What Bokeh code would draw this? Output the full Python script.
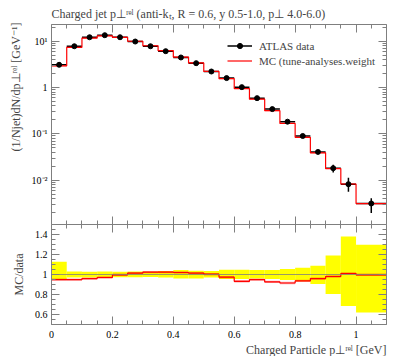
from bokeh.plotting import figure
from bokeh.models import (Range1d, FixedTicker, LinearAxis, LogAxis, Title,
                          Legend, LegendItem, Span, CustomJSTickFormatter)
from bokeh.layouts import column
from bokeh.embed import file_html
from bokeh.resources import INLINE

# ---- data ----
edges = [0.0, 0.05, 0.1, 0.15, 0.2, 0.25, 0.3, 0.35, 0.4, 0.45, 0.5,
         0.55, 0.6, 0.65, 0.7, 0.75, 0.8, 0.85, 0.9, 0.95, 1.0, 1.1]
data_y = [3.1, 7.8, 12.2, 13.5, 12.2, 9.86, 7.8, 6.1, 4.46, 3.36, 2.22,
          1.6, 1.02, 0.59, 0.342, 0.183, 0.0898, 0.0406, 0.0181, 0.00817, 0.00313]
band_up = [1.128, 1.030, 1.027, 1.030, 1.027, 1.030, 1.027, 1.034, 1.044, 1.037, 1.034,
           1.047, 1.047, 1.044, 1.044, 1.054, 1.068, 1.088, 1.19, 1.38, 1.298]
band_dn = [0.955, 0.970, 0.970, 0.970, 0.973, 0.973, 0.976, 0.970, 0.959, 0.959, 0.970,
           0.956, 0.956, 0.959, 0.956, 0.946, 0.932, 0.905, 0.804, 0.685, 0.621]
mc_ratio = [0.949, 0.949, 0.959, 0.970, 0.997, 1.014, 1.024, 1.024, 1.020, 1.014, 1.003,
            0.973, 0.932, 0.949, 0.926, 0.915, 0.936, 0.959, 0.980, 1.010, 0.997]
mc_rel_err = 0.012

x_major = [0.0, 0.2, 0.4, 0.6, 0.8, 1.0]
x_labels = {0.0: "0", 0.2: "0.2", 0.4: "0.4", 0.6: "0.6", 0.8: "0.8", 1.0: "1"}
y_major = [0.01, 0.1, 1.0, 10.0]
y_labels = {0.01: "10⁻²", 0.1: "10⁻¹", 1.0: "1", 10.0: "10¹"}
r_major = [0.6, 0.8, 1.0, 1.2, 1.4]
r_labels = {0.6: "0.6", 0.8: "0.8", 1.0: "1", 1.2: "1.2", 1.4: "1.4"}

lo = edges[:-1]
hi = edges[1:]
mid = [(a + b) / 2 for a, b in zip(lo, hi)]
mc_y = [d * r for d, r in zip(data_y, mc_ratio)]
err_top = [d * u for d, u in zip(data_y, band_up)]
err_bot = [d * w for d, w in zip(data_y, band_dn)]

x_minor = [round(i * 0.05, 2) for i in range(0, 23) if round(i * 0.05, 2) not in x_major]
y_minor = [k * 10.0 ** e for e in range(-3, 2) for k in range(2, 10)]
r_minor = [round(0.5 + i * 0.05, 2) for i in range(0, 21) if round(0.5 + i * 0.05, 2) not in r_major]

FONT = "Liberation Serif"
AX = "#7f7f7f"
LBL = "12px"


def style_axis(ax, labels=True, size="11px"):
    ax.axis_line_color = AX
    ax.major_tick_line_color = AX
    ax.minor_tick_line_color = AX
    ax.major_tick_in = 8
    ax.major_tick_out = 0
    ax.minor_tick_in = 4
    ax.minor_tick_out = 0
    ax.major_label_text_font = FONT
    ax.major_label_text_color = "black"
    ax.major_label_text_font_size = size
    if not labels:
        ax.formatter = CustomJSTickFormatter(code="return '';")
        ax.major_label_text_font_size = "1px"
        ax.major_label_standoff = 0


# ---- main panel ----
p = figure(frame_width=335, frame_height=200, x_range=Range1d(0, 1.1),
           y_range=Range1d(0.0011, 23), y_axis_type="log",
           output_backend="svg", toolbar_location=None,
           min_border_left=41, min_border_right=5, min_border_top=16, min_border_bottom=0)
p.grid.visible = False
p.outline_line_color = None
p.title.text = "Charged jet p⊥ʳᵉˡ (anti-kₜ, R = 0.6, y 0.5-1.0, p⊥ 4.0-6.0)"
p.title.text_font = FONT
p.title.text_font_size = LBL
p.title.text_font_style = "normal"
p.title.align = "left"
p.title.standoff = 8

xt = FixedTicker(ticks=x_major, minor_ticks=x_minor)
yt = FixedTicker(ticks=y_major, minor_ticks=y_minor)
p.xaxis[0].ticker = xt
style_axis(p.xaxis[0], labels=False)
p.yaxis[0].ticker = yt
p.yaxis[0].major_label_overrides = y_labels
p.yaxis[0].major_label_standoff = 4
style_axis(p.yaxis[0], size="10px")
top_ax = LinearAxis(ticker=xt)
style_axis(top_ax, labels=False)
p.add_layout(top_ax, "above")
right_ax = LogAxis(ticker=yt)
style_axis(right_ax, labels=False)
p.add_layout(right_ax, "right")
p.add_layout(Title(text="(1/Njet)dN/dp⊥ʳᵉˡ [GeV⁻¹]", align="right",
                   text_font=FONT, text_font_size=LBL, text_font_style="normal",
                   standoff=12), "left")

r_bars = p.segment(x0=lo, y0=data_y, x1=hi, y1=data_y, line_color="black", line_width=1.5)
p.segment(x0=mid, y0=err_bot, x1=mid, y1=err_top, line_color="black", line_width=1.5)
p.quad(left=lo, right=hi, bottom=[m * (1 - 2 * mc_rel_err) for m in mc_y],
       top=[m * (1 + 2 * mc_rel_err) for m in mc_y],
       fill_color="red", fill_alpha=0.35, line_color=None)
r_mc = p.step(x=edges, y=mc_y + [mc_y[-1]], mode="after", line_color="red", line_width=1.2)
r_pts = p.scatter(x=mid, y=data_y, size=5, color="black")

legend = Legend(items=[LegendItem(label="ATLAS data", renderers=[r_bars, r_pts]),
                       LegendItem(label="MC (tune-analyses.weight", renderers=[r_mc])],
                location=(176, 157), glyph_width=25, glyph_height=13,
                label_height=13, spacing=2, padding=0, margin=0,
                label_standoff=7, label_text_font=FONT, label_text_font_size="11px",
                background_fill_alpha=0, border_line_color=None)
p.add_layout(legend)

# ---- ratio panel ----
r = figure(frame_width=335, frame_height=100, x_range=p.x_range,
           y_range=Range1d(0.5, 1.5), output_backend="svg", toolbar_location=None,
           min_border_left=41, min_border_right=5, min_border_top=0, min_border_bottom=26)
r.grid.visible = False
r.outline_line_color = None
rt = FixedTicker(ticks=r_major, minor_ticks=r_minor)
r.xaxis[0].ticker = xt
r.xaxis[0].major_label_overrides = x_labels
r.xaxis[0].major_label_standoff = 6
style_axis(r.xaxis[0], size="10px")
r.yaxis[0].ticker = rt
r.yaxis[0].major_label_overrides = r_labels
r.yaxis[0].major_label_standoff = 4
style_axis(r.yaxis[0], size="10px")
rtop = LinearAxis(ticker=xt)
style_axis(rtop, labels=False)
r.add_layout(rtop, "above")
rright = LinearAxis(ticker=rt)
style_axis(rright, labels=False)
r.add_layout(rright, "right")
r.add_layout(Title(text="MC/data", align="center", text_font=FONT,
                   text_font_size=LBL, text_font_style="normal", standoff=12), "left")
r.add_layout(Title(text="Charged Particle p⊥ʳᵉˡ [GeV]", align="right", text_font=FONT,
                   text_font_size=LBL, text_font_style="normal", standoff=0), "below")

r.quad(left=lo, right=hi, bottom=band_dn, top=band_up, fill_color="#ffff00",
       line_color=None)
r.add_layout(Span(location=1.0, dimension="width", line_color="#808080",
                  line_alpha=0.8, line_width=1))
r.quad(left=lo, right=hi, bottom=[m - mc_rel_err for m in mc_ratio],
       top=[m + mc_rel_err for m in mc_ratio],
       fill_color="red", fill_alpha=0.35, line_color=None)
r.step(x=edges, y=mc_ratio + [mc_ratio[-1]], mode="after", line_color="red", line_width=1.2)

layout = column(p, r, spacing=0)
open("out.html", "w").write(file_html(layout, INLINE))
